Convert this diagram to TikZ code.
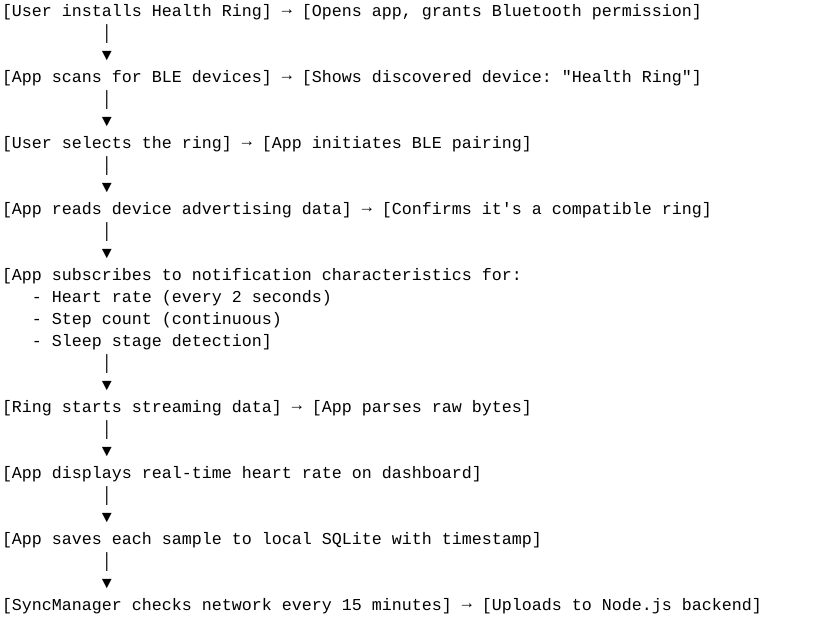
\documentclass[tikz,border=0pt]{standalone}
\usepackage{fontspec}
\setmonofont{Liberation Mono}
\newcommand{\ind}[1]{\hspace*{#1\fontcharwd\font 120}}
\newcommand{\arr}{\raisebox{1.5pt}{→}}

\begin{document}
\begin{tikzpicture}[x=1pt, y=1pt,
        main/.style = {font=\ttfamily\fontsize{16.66pt}{22pt}\selectfont\frenchspacing, text=black, inner sep=0pt, outer sep=0pt, text height=16pt, text depth=6pt, anchor=base west},
        link/.style = {main}]
    \useasboundingbox (0,0) rectangle (815,-629);
    \matrix (flow) [matrix anchor=north west, inner sep=0pt, outer sep=0pt, row sep=0pt] at (2,0) {
    \node[main] (1) {[User installs Health Ring] \arr{} [Opens app, grants Bluetooth permission]}; \\
    \node[link] (1v) {\ind{10}│}; \\
    \node[link] (1t) {\ind{10}▼}; \\
    \node[main] (2) {[App scans for BLE devices] \arr{} [Shows discovered device: "Health Ring"]}; \\
    \node[link] (2v) {\ind{10}│}; \\
    \node[link] (2t) {\ind{10}▼}; \\
    \node[main] (3) {[User selects the ring] \arr{} [App initiates BLE pairing]}; \\
    \node[link] (3v) {\ind{10}│}; \\
    \node[link] (3t) {\ind{10}▼}; \\
    \node[main] (4) {[App reads device advertising data] \arr{} [Confirms it's a compatible ring]}; \\
    \node[link] (4v) {\ind{10}│}; \\
    \node[link] (4t) {\ind{10}▼}; \\
    \node[main] (5) {[App subscribes to notification characteristics for:}; \\
    \node[main] (5a) {\ind{3}- Heart rate (every 2 seconds)}; \\
    \node[main] (5b) {\ind{3}- Step count (continuous)}; \\
    \node[main] (5c) {\ind{3}- Sleep stage detection]}; \\
    \node[link] (5v) {\ind{10}│}; \\
    \node[link] (5t) {\ind{10}▼}; \\
    \node[main] (6) {[Ring starts streaming data] \arr{} [App parses raw bytes]}; \\
    \node[link] (6v) {\ind{10}│}; \\
    \node[link] (6t) {\ind{10}▼}; \\
    \node[main] (7) {[App displays real-time heart rate on dashboard]}; \\
    \node[link] (7v) {\ind{10}│}; \\
    \node[link] (7t) {\ind{10}▼}; \\
    \node[main] (8) {[App saves each sample to local SQLite with timestamp]}; \\
    \node[link] (8v) {\ind{10}│}; \\
    \node[link] (8t) {\ind{10}▼}; \\
    \node[main] (9) {[SyncManager checks network every 15 minutes] \arr{} [Uploads to Node.js backend]}; \\
    };
\end{tikzpicture}
\end{document}
